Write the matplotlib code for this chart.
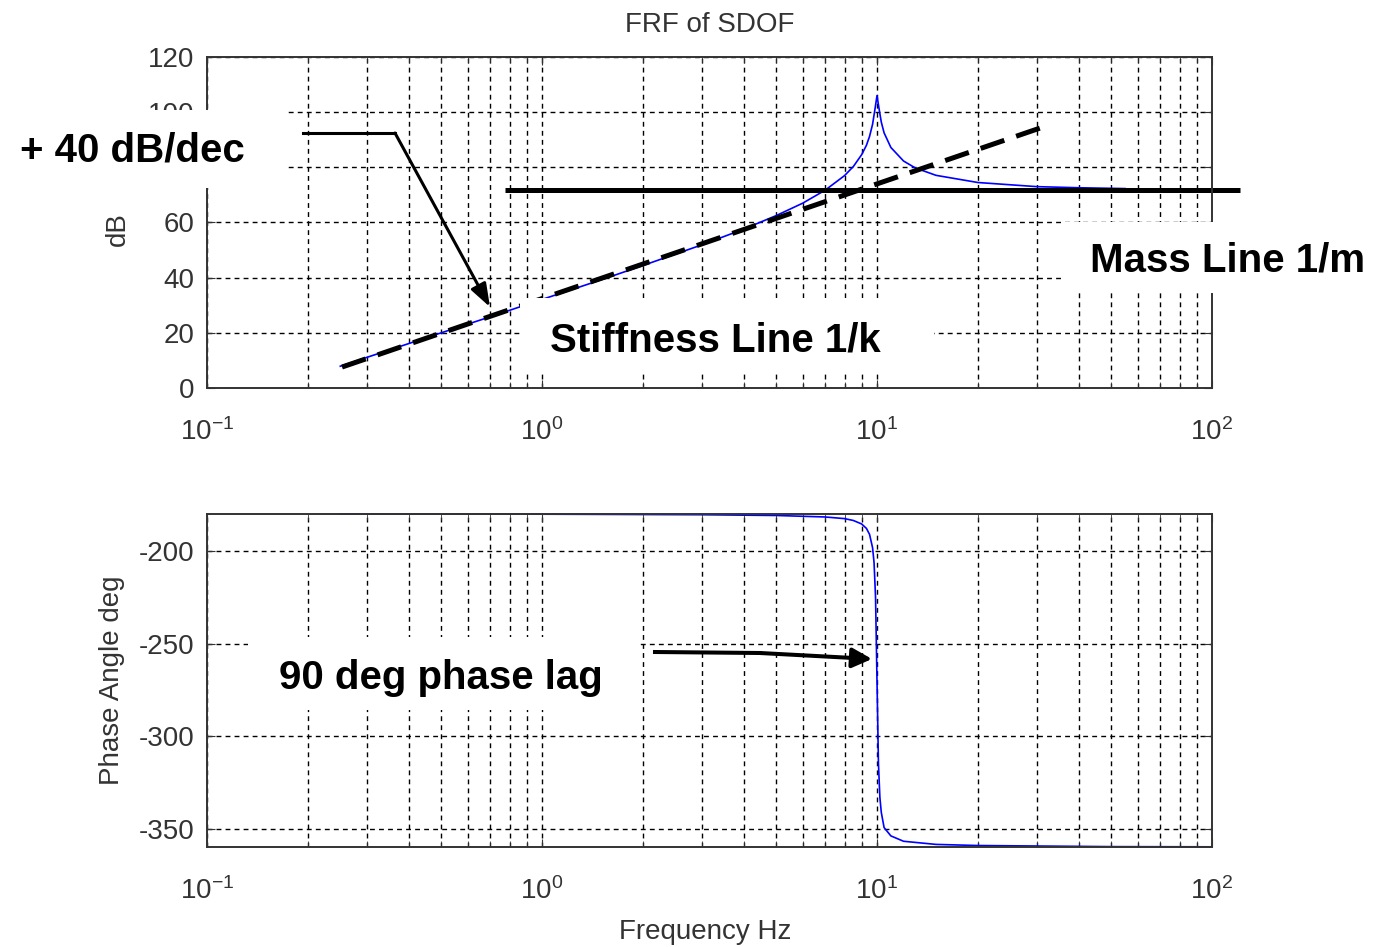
import matplotlib.pyplot as plt
from matplotlib.patches import Rectangle, FancyArrowPatch
from matplotlib.lines import Line2D

plt.rcParams['font.family'] = ['Liberation Sans', 'DejaVu Sans']
plt.rcParams['mathtext.fontset'] = 'custom'
plt.rcParams['mathtext.rm'] = 'Liberation Sans'
plt.rcParams['mathtext.default'] = 'regular'
plt.rcParams['axes.unicode_minus'] = False

# ---------------- DATA ----------------
freq_mag = [0.25, 0.3, 0.4, 0.5, 0.7, 1, 1.5, 2, 3, 4, 5, 6, 7, 8, 8.5, 9, 9.3,
            9.5, 9.7, 9.85, 10, 10.15, 10.3, 10.5, 11, 12, 13, 15, 20, 30, 40, 55]
mag_db = [7.9, 11.1, 16.1, 20.0, 25.8, 32.1, 39.2, 44.4, 51.9, 57.6, 62.5, 67.0,
          71.7, 77.0, 80.3, 84.6, 88.0, 91.2, 95.6, 100.7, 106.0, 101.0, 96.4,
          92.5, 87.2, 82.3, 79.8, 77.1, 74.5, 73.0, 72.6, 72.3]

freq_phase = [0.25, 1, 3, 5, 7, 8, 8.5, 9, 9.3, 9.5, 9.7, 9.8, 9.9, 10, 10.1,
              10.2, 10.3, 10.5, 11, 12, 15, 20, 50, 100]
phase_deg = [-180.0, -180.1, -180.4, -180.8, -181.6, -182.5, -183.5, -185.4,
             -187.8, -191.0, -198.2, -206.3, -224.9, -270.0, -314.9, -333.2,
             -341.3, -349.5, -354.0, -356.9, -358.6, -359.2, -359.8, -359.9]

# asymptote lines
stiff_f = [0.253, 31.3]
stiff_db = [7.6, 94.6]
mass_f = [0.775, 121]
mass_db = [71.8, 71.8]

mag_ticks = [0, 20, 40, 60, 80, 100, 120]
mag_ticklabels = ['0', '20', '40', '60', '', '100', '120']  # 80 hidden under the note box
phase_ticks = [-350, -300, -250, -200]

# ---------------- FIGURE ----------------
W, H = 1381, 947
fig = plt.figure(figsize=(W / 100, H / 100), dpi=100)


def fx(x):
    return x / W


def fy(y):
    return 1 - y / H


ax1 = fig.add_axes([fx(207), fy(388), 1005 / W, 331 / H])
ax2 = fig.add_axes([fx(207), fy(847), 1005 / W, 333 / H])

txt_col = '#333333'
for ax in (ax1, ax2):
    ax.set_xscale('log')
    ax.set_xlim(0.1, 100)
    ax.grid(True, which='both', axis='x', ls=(0, (3.5, 3)), color='k', lw=1.0)
    ax.grid(True, which='major', axis='y', ls=(0, (3.5, 3)), color='k', lw=1.0)
    ax.tick_params(which='both', direction='in', top=True, right=True,
                   labelsize=20, colors=txt_col, pad=9)
    ax.tick_params(which='major', length=6)
    ax.tick_params(which='minor', length=4)
    ax.tick_params(axis='x', pad=22)
    for s in ax.spines.values():
        s.set_linewidth(1.4)
        s.set_color('#333333')

ax1.plot(freq_mag, mag_db, color='#0000ff', lw=1.2)
ax1.set_ylim(0, 120)
ax1.set_yticks(mag_ticks)
ax1.set_yticklabels(mag_ticklabels)
ax1.set_title('FRF of SDOF', fontsize=20, color=txt_col, pad=18)
ax1.set_ylabel('dB', fontsize=20, color=txt_col)
ax1.yaxis.set_label_coords(-0.076, 0.48)

ax1.plot(stiff_f, stiff_db, color='k', lw=3.6, ls=(0, (5, 2.5)), clip_on=False)
ax1.plot(mass_f, mass_db, color='k', lw=3.6, clip_on=False, solid_capstyle='butt')

ax2.plot(freq_phase, phase_deg, color='#0000ff', lw=1.2, clip_on=False)
ax2.set_ylim(-360, -180)
ax2.set_yticks(phase_ticks)
ax2.set_ylabel('Phase Angle deg', fontsize=20, color=txt_col)
ax2.yaxis.set_label_coords(-0.082, 0.5)
ax2.set_xlabel('Frequency Hz', fontsize=20, color=txt_col)
ax2.xaxis.set_label_coords(0.496, -0.215)

# ---------------- ANNOTATIONS ----------------
boxes = [(0, 110, 288, 188), (520, 298, 934, 372),
         (1064, 222, 1381, 293), (248, 637, 640, 710)]
for x0, y0, x1, y1 in boxes:
    fig.add_artist(Rectangle((fx(x0), fy(y1)), (x1 - x0) / W, (y1 - y0) / H,
                             transform=fig.transFigure, facecolor='white',
                             edgecolor='none', zorder=5))

labels = [('+ 40 dB/dec', 132, 150), ('Stiffness Line 1/k', 715, 340),
          ('Mass Line 1/m', 1228, 260), ('90 deg phase lag', 441, 678)]
for s, x, y in labels:
    fig.text(fx(x), fy(y), s, fontsize=29, fontweight='bold', color='k',
             ha='center', va='center', zorder=6)

# arrow to stiffness line
fig.add_artist(Line2D([fx(303), fx(395)], [fy(133), fy(133)], color='k', lw=2.2,
                      transform=fig.transFigure, zorder=7))
fig.add_artist(FancyArrowPatch((fx(395), fy(133)), (fx(490), fy(307)),
                               transform=fig.transFigure, color='k', lw=2.2,
                               arrowstyle='-|>,head_length=0.7,head_width=0.25',
                               mutation_scale=20, shrinkA=0, shrinkB=0, zorder=7))

# arrow to phase drop
fig.add_artist(Line2D([fx(655), fx(760)], [fy(652), fy(653)], color='k', lw=2.9,
                      transform=fig.transFigure, zorder=7))
fig.add_artist(FancyArrowPatch((fx(760), fy(653)), (fx(872), fy(659)),
                               transform=fig.transFigure, color='k', lw=2.9,
                               arrowstyle='-|>,head_length=0.6,head_width=0.3',
                               mutation_scale=20, shrinkA=0, shrinkB=0, zorder=7))

fig.savefig('out.png', dpi=100, facecolor='white')
